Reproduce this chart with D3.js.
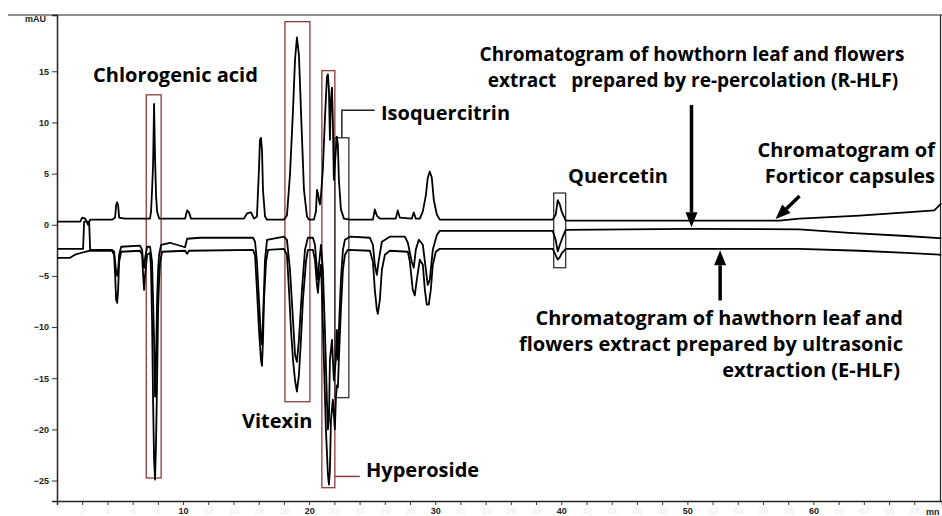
<!DOCTYPE html>
<html>
<head>
<meta charset="utf-8">
<script src="https://cdn.jsdelivr.net/npm/d3@7"></script>
<style>
  body { margin: 0; background: #fff; }
  svg { display: block; }
  .lbl { font-family: "Open Sans", sans-serif; font-weight: 700; font-size: 20px; fill: #000; }
  .tick text { font-family: "Liberation Sans", Arial, sans-serif; font-weight: 700; font-size: 9px; fill: #222; }
</style>
</head>
<body>
<div id="chart"></div>
<script>
// time (min), signal (mAU)
var forticor = [[0,0.3],[1.84,0.3],[2.0,0.7],[2.23,0.6],[2.47,0.0],[2.63,0.5],[4.37,0.5],[4.61,0.7],[4.69,1.9],[4.77,2.2],[4.85,1.9],[4.93,0.7],[5.4,0.6],[7.38,0.6],[7.46,1.3],[7.54,3.4],[7.62,5.8],[7.70,11.8],[7.78,6.4],[7.86,2.8],[7.94,1.3],[8.10,0.6],[10.16,0.6],[10.32,1.4],[10.47,1.2],[10.63,0.6],[14.83,0.6],[15.07,1.1],[15.39,1.2],[15.63,0.6],[15.86,0.8],[16.02,5.4],[16.10,8.3],[16.18,8.5],[16.26,7.3],[16.34,3.4],[16.50,0.8],[16.66,0.5],[18.0,0.5],[18.24,0.9],[18.48,4.9],[18.72,11.2],[18.88,16.1],[19.03,18.3],[19.19,16.6],[19.35,11.2],[19.59,3.4],[19.83,0.8],[19.98,0.5],[20.38,0.5],[20.54,1.3],[20.62,3.4],[20.70,3.1],[20.78,2.4],[20.86,2.0],[20.94,2.9],[21.09,5.4],[21.25,10.3],[21.41,14.4],[21.49,14.7],[21.57,13.2],[21.65,8.3],[21.73,12.2],[21.81,13.4],[21.88,10.3],[21.96,4.4],[22.12,7.3],[22.20,8.6],[22.28,7.8],[22.36,4.4],[22.52,1.5],[22.76,0.6],[23.23,0.5],[25.06,0.5],[25.21,1.5],[25.37,0.9],[25.61,0.6],[26.87,0.6],[27.03,1.4],[27.19,0.7],[28.14,0.6],[28.30,1.2],[28.46,0.6],[28.78,0.6],[29.02,1.3],[29.26,2.9],[29.41,4.6],[29.57,5.2],[29.73,4.6],[29.89,2.4],[30.13,1.0],[30.36,0.5],[39.32,0.5],[39.56,1.0],[39.72,2.4],[39.88,2.0],[40.03,1.3],[40.35,0.4],[57.31,0.4],[58.89,0.6],[63.65,0.9],[67.37,1.2],[69.59,1.4],[69.99,1.9],[70.15,2.1]];

var rhlf = [[0,-2.35],[2.07,-2.35],[2.15,0.3],[2.55,0.3],[2.63,-2.45],[4.37,-2.45],[4.53,-2.64],[4.61,-3.62],[4.69,-4.6],[4.77,-5.0],[4.85,-4.4],[4.93,-2.93],[5.09,-2.15],[6.59,-2.05],[6.75,-2.45],[6.83,-3.62],[6.91,-4.2],[6.99,-3.23],[7.15,-2.15],[7.38,-2.15],[7.54,-3.62],[7.62,-7.33],[7.70,-11.25],[7.78,-16.8],[7.86,-13.2],[7.94,-7.33],[8.02,-4.4],[8.10,-2.93],[8.26,-1.96],[8.97,-1.76],[10.16,-2.2],[10.32,-1.37],[11.35,-1.27],[15.55,-1.27],[15.71,-1.66],[15.86,-3.62],[16.02,-7.33],[16.18,-11.25],[16.26,-11.7],[16.34,-9.3],[16.50,-3.42],[16.66,-1.47],[18.0,-1.17],[18.24,-1.47],[18.48,-4.4],[18.72,-9.3],[18.88,-12.7],[19.03,-13.4],[19.19,-11.25],[19.43,-6.36],[19.67,-2.45],[19.90,-1.27],[20.30,-1.27],[20.46,-1.96],[20.62,-4.4],[20.70,-5.38],[20.78,-3.91],[20.94,-1.96],[21.09,-4.4],[21.25,-10.27],[21.41,-17.1],[21.49,-20.0],[21.57,-19.1],[21.65,-13.2],[21.81,-11.25],[21.96,-15.2],[22.12,-13.2],[22.20,-10.27],[22.28,-13.2],[22.36,-10.27],[22.52,-5.38],[22.68,-2.45],[22.84,-1.47],[23.23,-1.17],[24.82,-1.27],[25.06,-1.96],[25.21,-3.91],[25.37,-4.89],[25.53,-3.42],[25.77,-1.66],[26.40,-1.17],[27.59,-1.17],[27.83,-1.76],[28.14,-3.62],[28.30,-4.2],[28.46,-2.45],[28.70,-1.47],[29.02,-1.96],[29.26,-4.4],[29.41,-5.87],[29.57,-5.38],[29.81,-2.45],[30.13,-1.0],[30.36,-0.6],[39.32,-0.6],[39.56,-1.5],[39.72,-2.6],[39.88,-2.0],[40.11,-1.2],[40.35,-0.5],[50.16,-0.4],[58.89,-0.45],[62.85,-0.8],[67.37,-1.1],[69.99,-1.3],[70.15,-1.3]];

var ehlf = [[0,-3.23],[1.03,-3.23],[1.43,-2.93],[2.23,-2.64],[2.63,-2.54],[4.37,-2.54],[4.53,-2.93],[4.61,-4.89],[4.69,-7.33],[4.77,-7.63],[4.85,-6.36],[4.93,-3.62],[5.09,-2.64],[6.59,-2.54],[6.75,-2.93],[6.83,-4.89],[6.91,-6.36],[6.99,-4.89],[7.15,-2.93],[7.38,-2.74],[7.46,-4.4],[7.54,-9.3],[7.62,-17.1],[7.70,-23.0],[7.78,-24.9],[7.86,-21.0],[7.94,-15.2],[8.02,-8.3],[8.10,-5.38],[8.18,-3.62],[8.34,-2.64],[10.16,-2.54],[10.32,-2.84],[10.47,-2.54],[15.55,-2.45],[15.71,-3.03],[15.86,-6.36],[16.02,-10.27],[16.18,-13.2],[16.26,-13.8],[16.34,-11.25],[16.42,-7.33],[16.58,-3.62],[16.74,-2.45],[18.0,-2.35],[18.24,-2.93],[18.40,-6.36],[18.56,-10.27],[18.72,-13.2],[18.88,-15.2],[19.03,-16.3],[19.19,-14.7],[19.35,-11.25],[19.51,-7.33],[19.75,-3.62],[19.90,-2.45],[20.30,-2.45],[20.46,-3.42],[20.62,-5.87],[20.70,-6.65],[20.78,-5.38],[20.94,-3.91],[21.01,-6.36],[21.17,-13.2],[21.33,-20.0],[21.49,-24.4],[21.57,-25.4],[21.65,-24.0],[21.73,-19.1],[21.88,-17.1],[22.04,-20.0],[22.12,-17.1],[22.20,-15.7],[22.28,-15.9],[22.36,-13.2],[22.52,-8.3],[22.68,-4.4],[22.84,-2.93],[23.07,-2.45],[24.82,-2.54],[25.06,-3.62],[25.21,-6.36],[25.37,-8.3],[25.45,-8.7],[25.61,-7.33],[25.77,-4.4],[26.01,-2.93],[26.40,-2.54],[27.83,-2.64],[27.99,-3.62],[28.22,-6.36],[28.38,-6.9],[28.54,-5.38],[28.78,-3.42],[29.02,-3.91],[29.18,-6.36],[29.33,-7.8],[29.49,-7.8],[29.65,-6.36],[29.81,-3.91],[30.05,-2.64],[30.36,-2.35],[39.32,-2.35],[39.56,-3.0],[39.72,-3.4],[39.88,-3.2],[40.03,-2.8],[40.35,-2.35],[58.89,-2.35],[63.65,-2.54],[67.37,-2.74],[69.99,-2.93],[70.15,-2.93]];

var yTicks = [-25, -20, -15, -10, -5, 0, 5, 10, 15];
var xTicks = d3.range(2, 70, 2);
var xLabels = [10, 20, 30, 40, 50, 60];

// marked peaks: time span and signal span
var peakBoxes = [
  {name: 'Chlorogenic acid', t0: 7.08, t1: 8.26, top: 12.7, bottom: -24.75, color: '#8c3a3a'},
  {name: 'Vitexin', t0: 18.08, t1: 20.06, top: 19.85, bottom: -17.3, color: '#8c3a3a'},
  {name: 'Hyperoside', t0: 21.01, t1: 22.04, top: 15.06, bottom: -25.7, color: '#8c3a3a'},
  {name: 'Isoquercitrin', t0: 22.04, t1: 23.15, top: 8.5, bottom: -16.9, color: '#333'},
  {name: 'Quercetin', t0: 39.40, t1: 40.35, top: 3.1, bottom: -4.2, color: '#333'}
];

var margin = {top: 15, right: 0, bottom: 15, left: 57};
var fullW = 942, fullH = 516;
var width = fullW - margin.left - margin.right,
	height = fullH - margin.top - margin.bottom;

var x = d3.scaleLinear().domain([0, 70.2]).range([0, width]);
var y = d3.scaleLinear().domain([-27, 20.5]).range([height, 0]);

var svg = d3.select('#chart').append('svg')
	.attr('width', fullW)
	.attr('height', fullH);

// frame line on top and right
svg.append('line').attr('x1', 8).attr('x2', fullW).attr('y1', margin.top).attr('y2', margin.top)
	.attr('stroke', '#222').attr('stroke-width', 1.2);
svg.append('line').attr('x1', fullW - 1.5).attr('x2', fullW - 1.5).attr('y1', margin.top).attr('y2', margin.top + height)
	.attr('stroke', '#222').attr('stroke-width', 1.2);

var g = svg.append('g')
	.attr('transform', 'translate(' + margin.left + ',' + margin.top + ')');

var yAxis = d3.axisLeft(y).tickValues(yTicks).tickSize(5).tickPadding(3);
var yGuide = g.append('g').call(yAxis);
yGuide.select('.domain').attr('stroke', '#222').attr('stroke-width', 1.5);
yGuide.selectAll('.tick line').attr('stroke', '#333');

var xAxis = d3.axisBottom(x).tickValues(xTicks).tickSize(4).tickPadding(3)
	.tickFormat(function(d) { return d; });
var xGuide = g.append('g').attr('transform', 'translate(0,' + height + ')').call(xAxis);
xGuide.select('.domain').attr('stroke', '#222').attr('stroke-width', 1.5);
xGuide.selectAll('.tick line').attr('stroke', '#333');
xGuide.selectAll('.tick text')
	.style('fill', function(d) { return xLabels.indexOf(d) >= 0 ? '#222' : '#f1f1f1'; });

g.append('text').attr('x', -32).attr('y', 7).text('mAU')
	.style('font-family', '"Liberation Sans", Arial, sans-serif').style('font-weight', 700)
	.style('font-size', '9px').style('fill', '#222');
g.append('text').attr('x', width - 16).attr('y', height + 14).text('mn')
	.style('font-family', '"Liberation Sans", Arial, sans-serif').style('font-weight', 700)
	.style('font-size', '9px').style('fill', '#222');

// peak boxes
g.selectAll('rect.peak').data(peakBoxes).enter().append('rect')
	.attr('class', 'peak')
	.attr('x', function(d) { return x(d.t0); })
	.attr('y', function(d) { return y(d.top); })
	.attr('width', function(d) { return x(d.t1) - x(d.t0); })
	.attr('height', function(d) { return y(d.bottom) - y(d.top); })
	.attr('fill', 'none')
	.attr('stroke', function(d) { return d.color; })
	.attr('stroke-width', 1.3);

// traces
var line = d3.line()
	.x(function(d) { return x(d[0]); })
	.y(function(d) { return y(d[1]); });

[ehlf, rhlf, forticor].forEach(function(s) {
	g.append('path').datum(s)
		.attr('d', line)
		.attr('fill', 'none')
		.attr('stroke', '#000')
		.attr('stroke-width', 1.8)
		.attr('stroke-linejoin', 'round');
});

// connectors to labels
var hyp = peakBoxes[2], iso = peakBoxes[3];
g.append('line').attr('x1', x(hyp.t1)).attr('x2', x(hyp.t1) + 25)
	.attr('y1', y(-24.6)).attr('y2', y(-24.6))
	.attr('stroke', '#8c3a3a').attr('stroke-width', 1.5);
g.append('path')
	.attr('d', 'M' + ((x(iso.t0) + x(iso.t1)) / 2) + ',' + y(iso.top) +
		'V' + y(11.2) + 'H' + (x(iso.t1) + 26))
	.attr('fill', 'none').attr('stroke', '#222').attr('stroke-width', 1.5);

// arrows
function arrow(x1, y1, x2, y2) {
	var ang = Math.atan2(y2 - y1, x2 - x1), hl = 15, hw = 6;
	var bx = x2 - hl * Math.cos(ang), by = y2 - hl * Math.sin(ang);
	g.append('line').attr('x1', x1).attr('y1', y1).attr('x2', bx).attr('y2', by)
		.attr('stroke', '#000').attr('stroke-width', 3.5);
	g.append('path')
		.attr('d', 'M' + x2 + ',' + y2 +
			'L' + (bx + hw * Math.sin(ang)) + ',' + (by - hw * Math.cos(ang)) +
			'L' + (bx - hw * Math.sin(ang)) + ',' + (by + hw * Math.cos(ang)) + 'Z')
		.attr('fill', '#000');
}
arrow(x(50.33), y(11.7), x(50.33), y(-0.25));
arrow(x(58.9), y(2.8), x(57.0), y(0.55));
arrow(x(52.6), y(-7.4), x(52.6), y(-2.5));

// text labels
var labels = [
	{t: 'Chlorogenic acid', x: 93, y: 82, a: 'start', s: 20},
	{t: 'Vitexin', x: 242, y: 428, a: 'start', s: 20},
	{t: 'Hyperoside', x: 366, y: 477, a: 'start', s: 20},
	{t: 'Isoquercitrin', x: 381, y: 120, a: 'start', s: 20},
	{t: 'Quercetin', x: 568, y: 183, a: 'start', s: 20},
	{t: 'Chromatogram of howthorn leaf and flowers', x: 692, y: 61, a: 'middle', s: 19},
	{t: 'extract   prepared by re-percolation (R-HLF)', x: 693, y: 87, a: 'middle', s: 19},
	{t: 'Chromatogram of', x: 935, y: 157, a: 'end', s: 20},
	{t: 'Forticor capsules', x: 935, y: 183, a: 'end', s: 20},
	{t: 'Chromatogram of hawthorn leaf and', x: 903, y: 325, a: 'end', s: 20},
	{t: 'flowers extract prepared by ultrasonic', x: 903, y: 351, a: 'end', s: 20},
	{t: 'extraction (E-HLF)', x: 900, y: 377, a: 'end', s: 20}
];
svg.selectAll('text.lbl').data(labels).enter().append('text')
	.attr('class', 'lbl')
	.attr('x', function(d) { return d.x; })
	.attr('y', function(d) { return d.y; })
	.attr('text-anchor', function(d) { return d.a; })
	.attr('xml:space', 'preserve')
	.style('white-space', 'pre')
	.style('font-size', function(d) { return d.s + 'px'; })
	.text(function(d) { return d.t; });
</script>
</body>
</html>
